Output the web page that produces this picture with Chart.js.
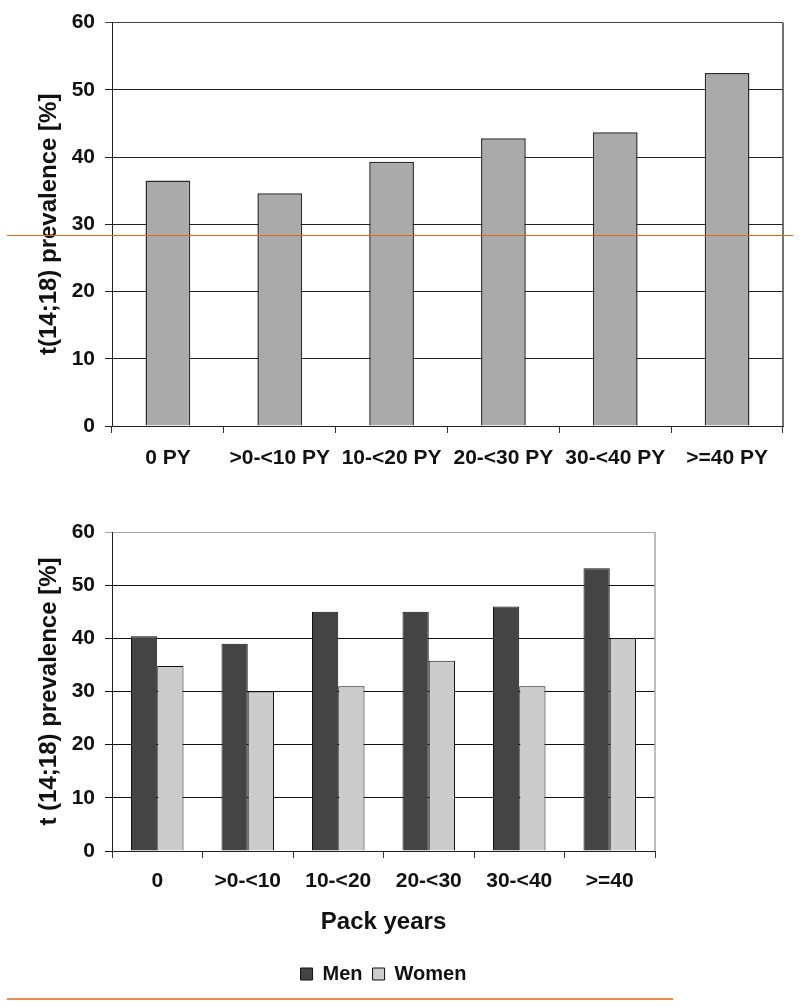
<!DOCTYPE html>
<html>
<head>
<meta charset="utf-8">
<script src="https://cdn.jsdelivr.net/npm/chart.js@4.4.1/dist/chart.umd.min.js"></script>
<style>
  html, body { margin: 0; padding: 0; background: #ffffff; }
  body { width: 800px; height: 1007px; position: relative; overflow: hidden; }
  #c1 { position: absolute; left: 0; top: 0; }
  #c2 { position: absolute; left: 0; top: 490px; }
  .rule { position: absolute; background: #e8650f; }
</style>
</head>
<body>
<canvas id="c1" width="800" height="490"></canvas>
<canvas id="c2" width="800" height="517"></canvas>
<div class="rule" style="left:7px; top:235px; width:786px; height:1px;"></div>
<div class="rule" style="left:7px; top:998px; width:666px; height:2px; background:#ee8a4c;"></div>
<script>
// ---- data ----
const topCategories = ['0 PY', '>0-<10 PY', '10-<20 PY', '20-<30 PY', '30-<40 PY', '>=40 PY'];
const topValues = [36.5, 34.6, 39.3, 42.8, 43.7, 52.5];

const bottomCategories = ['0', '>0-<10', '10-<20', '20-<30', '30-<40', '>=40'];
const menValues = [40.4, 39.0, 45.0, 45.0, 46.0, 53.2];
const womenValues = [34.8, 30.0, 31.0, 35.8, 31.0, 40.0];

const seriesNames = ['Men', 'Women'];
const topYTitle = 't(14;18) prevalence [%]';
const bottomYTitle = 't (14;18) prevalence [%]';
const bottomXTitle = 'Pack years';
const yMin = 0, yMax = 60, yStep = 10;

// ---- styling ----
const FAMILY = "'Liberation Sans', Arial, Helvetica, sans-serif";
const tickFont = { family: FAMILY, size: 21, weight: 'bold' };
const titleFont = { family: FAMILY, size: 24, weight: 'bold' };

const framePlugin = {
  id: 'frame',
  afterDatasetsDraw(chart, args, opts) {
    const { ctx, chartArea } = chart;
    ctx.save();
    ctx.strokeStyle = opts.color;
    ctx.lineWidth = opts.width;
    ctx.beginPath();
    ctx.moveTo(chartArea.right, chartArea.top);
    ctx.lineTo(chartArea.right, chartArea.bottom);
    ctx.stroke();
    ctx.restore();
  }
};

function yScale(title, topColor, lineColor) {
  return {
    min: yMin, max: yMax,
    ticks: { stepSize: yStep, font: tickFont, color: '#111', padding: 10 },
    grid: {
      color: (c) => (c.tick && c.tick.value === yMax) ? topColor : lineColor,
      lineWidth: 1,
      tickLength: 7,
      drawTicks: true
    },
    border: { color: '#222', width: 1 },
    title: { display: true, text: title, font: titleFont, color: '#111', padding: { top: 35, bottom: 0 } },
    afterFit: (s) => { s.width = 112; }
  };
}

// ---- Chart 1 ----
new Chart(document.getElementById('c1'), {
  type: 'bar',
  data: {
    labels: topCategories,
    datasets: [{
      data: topValues,
      backgroundColor: '#aaaaaa',
      borderColor: '#2a2a2a',
      borderWidth: 1.5,
      barPercentage: 0.4,
      categoryPercentage: 1.0
    }]
  },
  options: {
    responsive: false,
    devicePixelRatio: 1,
    animation: false,
    layout: { padding: { top: 14, right: 17, left: 0, bottom: 0 } },
    plugins: { legend: { display: false }, tooltip: { enabled: false },
      frame: { color: '#444', width: 1.5 } },
    scales: {
      x: {
        ticks: { font: tickFont, color: '#111', padding: 13, maxRotation: 0, autoSkip: false },
        grid: { drawOnChartArea: false, drawTicks: true, tickLength: 7, color: '#333' },
        border: { color: '#222', width: 1 },
        afterFit: (s) => { s.height = 64; }
      },
      y: yScale(topYTitle, '#444', '#222')
    }
  },
  plugins: [framePlugin]
});

// ---- Chart 2 ----
new Chart(document.getElementById('c2'), {
  type: 'bar',
  data: {
    labels: bottomCategories,
    datasets: [
      { label: seriesNames[0], data: menValues, backgroundColor: '#444444', borderColor: '#111', borderWidth: 1,
        barPercentage: 1.0, categoryPercentage: 0.58 },
      { label: seriesNames[1], data: womenValues, backgroundColor: '#cccccc', borderColor: '#111', borderWidth: 1,
        barPercentage: 1.0, categoryPercentage: 0.58 }
    ]
  },
  options: {
    responsive: false,
    devicePixelRatio: 1,
    animation: false,
    layout: { padding: { top: 42, right: 145, left: 0, bottom: 13 } },
    plugins: {
      tooltip: { enabled: false },
      frame: { color: '#a8a8a8', width: 1.5 },
      legend: {
        display: true,
        position: 'bottom',
        fullSize: false,
        labels: {
          font: { family: FAMILY, size: 20, weight: 'bold' },
          color: '#111',
          boxWidth: 12, boxHeight: 12,
          padding: 10,
          generateLabels: (chart) => chart.data.datasets.map((d, i) => ({
            text: d.label, fillStyle: d.backgroundColor, strokeStyle: '#111', lineWidth: 1,
            hidden: false, datasetIndex: i, fontColor: '#111'
          }))
        }
      }
    },
    scales: {
      x: {
        ticks: { font: tickFont, color: '#111', padding: 11, maxRotation: 0, autoSkip: false },
        grid: { drawOnChartArea: false, drawTicks: true, tickLength: 7, color: '#333' },
        border: { color: '#222', width: 1 },
        title: { display: true, text: bottomXTitle, font: titleFont, color: '#111', padding: { top: 0, bottom: 17 } },
        afterFit: (s) => { s.height = 103; }
      },
      y: yScale(bottomYTitle, '#a8a8a8', '#111')
    }
  },
  plugins: [framePlugin]
});
</script>
</body>
</html>
